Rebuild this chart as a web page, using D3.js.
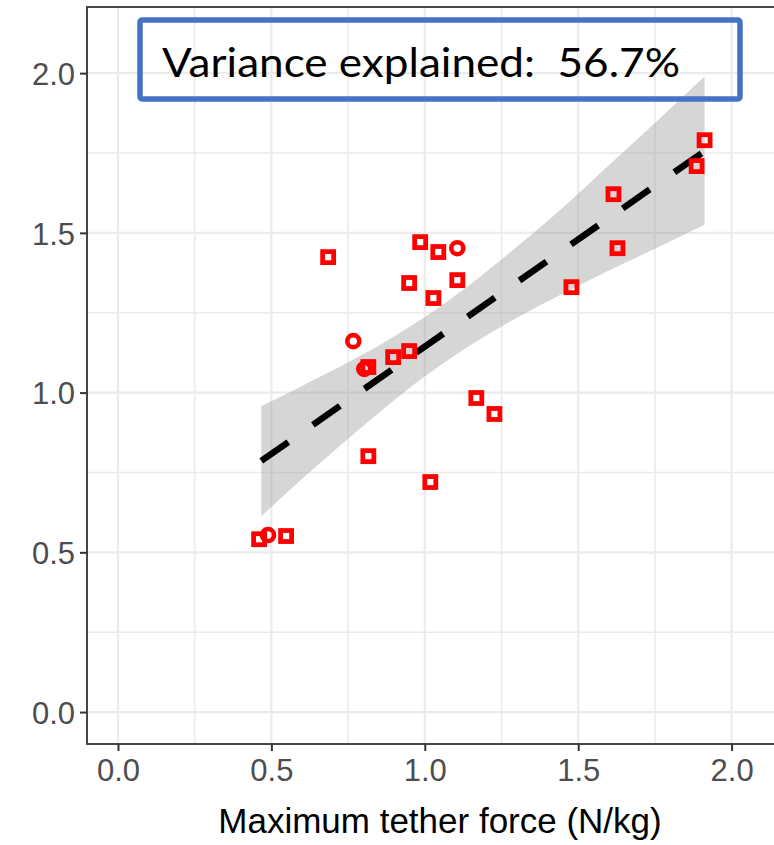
<!DOCTYPE html>
<html>
<head>
<meta charset="utf-8">
<script src="https://cdn.jsdelivr.net/npm/d3@7"></script>
<style>
  html, body { margin: 0; padding: 0; background: #ffffff; }
  svg { display: block; }
</style>
</head>
<body>
<svg id="chart" width="774" height="845"></svg>
<script>
// ---- data ----
const xTicks = [0, 0.5, 1.0, 1.5, 2.0];
const xTickLabels = ["0.0", "0.5", "1.0", "1.5", "2.0"];
const yTicks = [0, 0.5, 1.0, 1.5, 2.0];
const yTickLabels = ["0.0", "0.5", "1.0", "1.5", "2.0"];
const xMinor = [0.25, 0.75, 1.25, 1.75];
const yMinor = [0.25, 0.75, 1.25, 1.75];

const squareX = [0.460, 0.548, 0.685, 0.816, 0.816, 0.897, 0.949, 0.949, 0.985, 1.028, 1.044, 1.106, 1.018, 1.168, 1.227, 1.478, 1.615, 1.628, 1.886, 1.912];
const squareY = [0.541, 0.551, 1.424, 1.080, 0.801, 1.111, 1.130, 1.343, 1.471, 1.296, 1.440, 1.352, 0.720, 0.983, 0.933, 1.330, 1.621, 1.452, 1.709, 1.790];
const circleX = [0.489, 0.767, 0.803, 1.106];
const circleY = [0.554, 1.161, 1.074, 1.452];

const fitX = [0.467, 1.912];
const fitY = [0.786, 1.756];

const bandX     = [0.467, 0.57, 0.66, 0.88, 0.99, 1.10, 1.25, 1.43, 1.60, 1.75, 1.912];
const bandUpper = [0.958, 1.006, 1.050, 1.164, 1.230, 1.304, 1.417, 1.562, 1.712, 1.844, 1.990];
const bandLower = [0.612, 0.704, 0.780, 0.960, 1.044, 1.118, 1.207, 1.300, 1.382, 1.450, 1.525];

const xTitle = "Maximum tether force (N/kg)";
const annotation = "Variance explained:  56.7%";

// ---- layout ----
const svg = d3.select("#chart");
const panel = { left: 87, top: 7, bottom: 744, right: 800 };

const x = d3.scaleLinear().domain([-0.101, 2.223]).range([panel.left, panel.right]);
const y = d3.scaleLinear().domain([-0.100, 2.207]).range([panel.bottom, panel.top]);

svg.append("defs").append("clipPath").attr("id", "clip")
  .append("rect")
  .attr("x", panel.left).attr("y", panel.top)
  .attr("width", panel.right - panel.left).attr("height", panel.bottom - panel.top);

const g = svg.append("g");
const plot = g.append("g").attr("clip-path", "url(#clip)");

// panel background
plot.append("rect")
  .attr("x", panel.left).attr("y", panel.top)
  .attr("width", panel.right - panel.left).attr("height", panel.bottom - panel.top)
  .attr("fill", "#ffffff");

// minor grid
plot.selectAll(".vminor").data(xMinor).join("line")
  .attr("x1", d => x(d)).attr("x2", d => x(d))
  .attr("y1", panel.top).attr("y2", panel.bottom)
  .attr("stroke", "#ebebeb").attr("stroke-width", 1.6);
plot.selectAll(".hminor").data(yMinor).join("line")
  .attr("y1", d => y(d)).attr("y2", d => y(d))
  .attr("x1", panel.left).attr("x2", panel.right)
  .attr("stroke", "#ebebeb").attr("stroke-width", 1.6);

// major grid
plot.selectAll(".vmajor").data(xTicks).join("line")
  .attr("x1", d => x(d)).attr("x2", d => x(d))
  .attr("y1", panel.top).attr("y2", panel.bottom)
  .attr("stroke", "#ebebeb").attr("stroke-width", 2.2);
plot.selectAll(".hmajor").data(yTicks).join("line")
  .attr("y1", d => y(d)).attr("y2", d => y(d))
  .attr("x1", panel.left).attr("x2", panel.right)
  .attr("stroke", "#ebebeb").attr("stroke-width", 2.2);

// confidence band
const bandData = bandX.map((d, i) => ({ x: d, lo: bandLower[i], hi: bandUpper[i] }));
plot.append("path")
  .datum(bandData)
  .attr("d", d3.area()
    .x(d => x(d.x)).y0(d => y(d.lo)).y1(d => y(d.hi))
    .curve(d3.curveMonotoneX))
  .attr("fill", "#999999").attr("fill-opacity", 0.4);

// fitted line
const fitData = fitX.map((d, i) => ({ x: d, y: fitY[i] }));
plot.append("path")
  .datum(fitData)
  .attr("d", d3.line().x(d => x(d.x)).y(d => y(d.y)))
  .attr("fill", "none").attr("stroke", "#000000")
  .attr("stroke-width", 6.5).attr("stroke-dasharray", "33,30");

// points: squares
const sq = 11;
plot.selectAll(".sq").data(squareX.map((d, i) => ({ x: d, y: squareY[i] }))).join("rect")
  .attr("x", d => x(d.x) - sq / 2).attr("y", d => y(d.y) - sq / 2)
  .attr("width", sq).attr("height", sq)
  .attr("fill", "none").attr("stroke", "#ff0000").attr("stroke-width", 4.8);

// points: circles
plot.selectAll(".ci").data(circleX.map((d, i) => ({ x: d, y: circleY[i] }))).join("circle")
  .attr("cx", d => x(d.x)).attr("cy", d => y(d.y)).attr("r", 6)
  .attr("fill", "none").attr("stroke", "#ff0000").attr("stroke-width", 4.6);

// panel border
g.append("rect")
  .attr("x", panel.left).attr("y", panel.top)
  .attr("width", panel.right - panel.left).attr("height", panel.bottom - panel.top)
  .attr("fill", "none").attr("stroke", "#333333").attr("stroke-width", 1.8);

// axes
const xAxis = d3.axisBottom(x).tickValues(xTicks).tickFormat((d, i) => xTickLabels[i])
  .tickSizeInner(7).tickSizeOuter(0).tickPadding(8);
const yAxis = d3.axisLeft(y).tickValues(yTicks).tickFormat((d, i) => yTickLabels[i])
  .tickSizeInner(7).tickSizeOuter(0).tickPadding(5);

const gx = g.append("g").attr("transform", `translate(0,${panel.bottom})`).call(xAxis);
const gy = g.append("g").attr("transform", `translate(${panel.left},0)`).call(yAxis);
[gx, gy].forEach(a => {
  a.select(".domain").remove();
  a.selectAll(".tick line").attr("stroke", "#333333").attr("stroke-width", 2);
  a.selectAll(".tick text")
    .attr("fill", "#4d4d4d")
    .style("font-family", "'Liberation Sans', Arial, sans-serif")
    .style("font-size", "31px");
});
gx.selectAll(".tick text").attr("dy", "0.71em");
gy.selectAll(".tick text").attr("dy", "0.36em");

// x title
g.append("text")
  .attr("x", 440).attr("y", 833)
  .attr("text-anchor", "middle")
  .style("font-family", "'Liberation Sans', Arial, sans-serif")
  .style("font-size", "35px")
  .attr("fill", "#000000")
  .text(xTitle);

// annotation box
g.append("rect")
  .attr("x", 140).attr("y", 20).attr("width", 600).attr("height", 79)
  .attr("rx", 2)
  .attr("fill", "none").attr("stroke", "#4472c4").attr("stroke-width", 5.5);
g.append("text")
  .attr("x", 162).attr("y", 77)
  .style("font-family", "Lato, 'Open Sans', sans-serif")
  .style("font-size", "41px")
  .style("white-space", "pre")
  .attr("fill", "#000000")
  .attr("textLength", 518).attr("lengthAdjust", "spacingAndGlyphs")
  .text(annotation);
</script>
</body>
</html>
